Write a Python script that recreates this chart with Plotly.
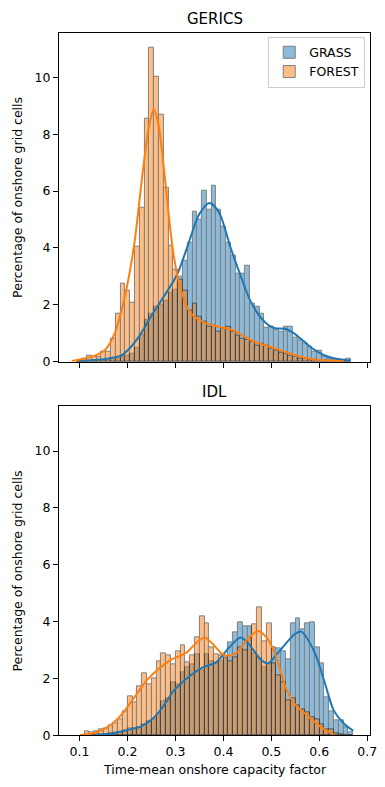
import numpy as np
import plotly.graph_objects as go

# ---------------- data ----------------
bin_width = 0.01
top_bin_start = 0.0954      # GERICS histogram first bin edge
bottom_bin_start = 0.1104   # IDL histogram first bin edge

gerics_grass = [0, 0, 0.02, 0.03, 0.05, 0.05, 0.08, 0.1, 0.12, 0.18,
                0.22, 0.3, 0.5, 0.95, 1.47, 1.69, 1.92, 2.0, 2.15, 2.44,
                2.55, 3.0, 3.54, 4.18, 5.28, 5.0, 6.0, 5.34, 6.19, 5.34,
                4.76, 4.18, 3.72, 3.08, 3.08, 3.37, 2.03, 1.92, 1.68, 1.2,
                1.22, 1.13, 1.05, 1.22, 1.25, 0.85, 0.78, 0.64, 0.52, 0.35,
                0.40, 0.17, 0.12, 0.10, 0.08, 0.06, 0.12]
gerics_forest = [0.05, 0.1, 0.23, 0.17, 0.17, 0.35, 0.35, 0.81, 1.68, 2.73,
                 2.50, 2.08, 4.05, 5.42, 8.54, 11.03, 10.02, 8.70, 6.12, 4.07,
                 3.22, 2.9, 2.5, 1.8, 2.03, 1.57, 1.4, 1.22, 1.28, 1.05,
                 1.16, 1.22, 1.05, 0.93, 0.82, 0.76, 0.70, 0.58, 0.64, 0.58,
                 0.46, 0.40, 0.31, 0.27, 0.20, 0.17, 0.12, 0.1, 0.08, 0.06,
                 0.05, 0.04, 0.03, 0.03, 0.02, 0.0, 0.0]
idl_grass = [0, 0, 0.02, 0.04, 0.05, 0.06, 0.08, 0.12, 0.18, 0.25,
             0.25, 0.3, 0.38, 0.5, 0.55, 0.75, 1.2, 1.3, 1.87, 1.8,
             2.2, 2.4, 2.5, 2.85, 2.3, 2.85, 2.6, 2.55, 2.6, 2.7,
             3.26, 3.61, 3.96, 3.84, 3.84, 2.9, 2.7, 2.4, 2.55, 3.09,
             3.05, 2.95, 2.68, 3.93, 4.1, 3.73, 3.93, 3.96, 3.11, 2.53,
             1.35, 0.86, 0.53, 0.53, 0.28, 0.09]
idl_forest = [0.16, 0.09, 0.13, 0.21, 0.25, 0.35, 0.44, 0.56, 0.86, 1.37,
              1.17, 1.72, 2.18, 1.81, 2.01, 2.62, 2.88, 2.80, 2.51, 2.97,
              3.15, 2.57, 2.83, 3.44, 4.19, 3.93, 3.09, 2.86, 2.80, 2.75,
              2.6, 2.75, 3.1, 3.0, 3.4, 3.90, 4.52, 3.3, 3.93, 2.55,
              2.1, 1.85, 1.25, 1.3, 1.05, 0.9, 0.8, 0.65, 0.55, 0.4,
              0.22, 0.2, 0.08, 0.02, 0, 0]

# KDE curves
gerics_grass_kde_x = [0.098, 0.159, 0.187, 0.207, 0.228, 0.248, 0.276, 0.303, 0.330, 0.340,
                      0.350, 0.371, 0.391, 0.415, 0.436, 0.456, 0.477, 0.497, 0.508, 0.528,
                      0.548, 0.569, 0.589, 0.610, 0.630, 0.651, 0.665]
gerics_grass_kde_y = [0.03, 0.11, 0.22, 0.52, 0.99, 1.57, 2.3, 3.05, 4.3, 4.8,
                      5.2, 5.58, 5.25, 4.01, 3.02, 2.15, 1.57, 1.25, 1.18, 1.16,
                      0.99, 0.70, 0.43, 0.23, 0.12, 0.06, 0.04]
gerics_forest_kde_x = [0.084, 0.125, 0.153, 0.173, 0.194, 0.214, 0.231, 0.245, 0.255, 0.265,
                       0.276, 0.286, 0.296, 0.310, 0.330, 0.357, 0.385, 0.409, 0.422, 0.443,
                       0.463, 0.487, 0.521, 0.555, 0.589, 0.624, 0.651]
gerics_forest_kde_y = [0.03, 0.17, 0.41, 0.99, 2.26, 4.12, 6.56, 8.30, 8.88, 8.30,
                       6.79, 5.17, 3.77, 2.61, 1.75, 1.40, 1.25, 1.16, 1.10, 0.89,
                       0.72, 0.58, 0.39, 0.20, 0.08, 0.04, 0.02]
idl_grass_kde_x = [0.129, 0.166, 0.200, 0.228, 0.255, 0.282, 0.293, 0.323, 0.357, 0.385,
                   0.412, 0.436, 0.453, 0.480, 0.494, 0.514, 0.548, 0.562, 0.589, 0.610,
                   0.630, 0.651, 0.671]
idl_grass_kde_y = [0.01, 0.07, 0.19, 0.32, 0.62, 1.2, 1.5, 1.99, 2.39, 2.57,
                   3.09, 3.44, 3.21, 2.63, 2.54, 2.91, 3.55, 3.65, 2.97, 1.93,
                   0.88, 0.42, 0.16]
idl_forest_kde_x = [0.101, 0.125, 0.153, 0.180, 0.200, 0.221, 0.241, 0.262, 0.289, 0.323,
                    0.344, 0.361, 0.378, 0.398, 0.412, 0.432, 0.453, 0.473, 0.494, 0.508,
                    0.520, 0.532, 0.548, 0.576, 0.603, 0.630]
idl_forest_kde_y = [0.01, 0.07, 0.24, 0.59, 1.0, 1.5, 1.95, 2.3, 2.64, 2.91,
                    3.26, 3.44, 3.21, 2.86, 2.80, 2.97, 3.44, 3.67, 3.35, 2.85,
                    2.2, 1.6, 1.12, 0.68, 0.30, 0.03]

x_ticks = [0.1, 0.2, 0.3, 0.4, 0.5, 0.6, 0.7]
y_ticks = [0, 2, 4, 6, 8, 10]
panel_titles = ["GERICS", "IDL"]
series_names = ["GRASS", "FOREST"]

# ---------------- styling ----------------
BLUE = "#1f77b4"
ORANGE = "#ff7f0e"
FONT = "DejaVu Sans"
W, H = 385, 787

def centers(start, n):
    return start + bin_width * (np.arange(n) + 0.5)

fig = go.Figure()

panels = [
    ("x", "y", top_bin_start, gerics_grass, gerics_forest,
     (gerics_grass_kde_x, gerics_grass_kde_y), (gerics_forest_kde_x, gerics_forest_kde_y), True),
    ("x2", "y2", bottom_bin_start, idl_grass, idl_forest,
     (idl_grass_kde_x, idl_grass_kde_y), (idl_forest_kde_x, idl_forest_kde_y), False),
]

for xa, ya, start, grass, forest, gk, fk, show_leg in panels:
    for name, vals, col in [(series_names[0], grass, BLUE), (series_names[1], forest, ORANGE)]:
        fig.add_trace(go.Bar(
            x=centers(start, len(vals)), y=vals, width=bin_width,
            marker=dict(color=col, line=dict(color="black", width=1)),
            opacity=0.5, name=name, showlegend=show_leg, legendgroup=name,
            xaxis=xa, yaxis=ya))
    for (kx, ky), col in [(gk, BLUE), (fk, ORANGE)]:
        fig.add_trace(go.Scatter(
            x=kx, y=ky, mode="lines", line=dict(color=col, width=2, shape="spline", smoothing=0.8),
            showlegend=False, hoverinfo="skip", xaxis=xa, yaxis=ya))

L, R = 60 / W, 377 / W
top_dom = [1 - 365 / H, 1 - 33 / H]
bot_dom = [1 - 742 / H, 1 - 410 / H]
xr = [0.057, 0.706]
yr = [0, 11.57]

axis_common = dict(showline=True, linecolor="black", linewidth=1, mirror=True,
                   ticks="outside", ticklen=5, tickwidth=1, tickcolor="black",
                   showgrid=False, zeroline=False,
                   tickfont=dict(family=FONT, size=12.5, color="black"))

fig.update_layout(
    width=W, height=H,
    margin=dict(l=0, r=0, t=0, b=0),
    paper_bgcolor="white", plot_bgcolor="white",
    barmode="overlay", bargap=0,
    font=dict(family=FONT, size=12.5, color="black"),
    xaxis=dict(domain=[L, R], range=xr, anchor="y", tickvals=x_ticks,
               showticklabels=False, **axis_common),
    yaxis=dict(domain=top_dom, range=yr, anchor="x", tickvals=y_ticks, **axis_common),
    xaxis2=dict(domain=[L, R], range=xr, anchor="y2", tickvals=x_ticks,
                ticktext=[f"{v:.1f}" for v in x_ticks], **axis_common),
    yaxis2=dict(domain=bot_dom, range=yr, anchor="x2", tickvals=y_ticks, **axis_common),
    legend=dict(x=372 / W, y=1 - 37 / H, xanchor="right", yanchor="top",
                bgcolor="rgba(255,255,255,0.8)", bordercolor="#cccccc", borderwidth=1,
                font=dict(family=FONT, size=12.5, color="black"),
                tracegroupgap=0, itemwidth=30),
    showlegend=True,
)

mid_x = (L + R) / 2
ann = [
    dict(text=panel_titles[0], x=mid_x, y=1 - 19 / H, font=dict(size=15)),
    dict(text=panel_titles[1], x=mid_x, y=1 - 396 / H, font=dict(size=15)),
    dict(text="Percentage of onshore grid cells", x=18 / W, y=sum(top_dom) / 2, textangle=-90),
    dict(text="Percentage of onshore grid cells", x=18 / W, y=sum(bot_dom) / 2, textangle=-90),
    dict(text="Time-mean onshore capacity factor", x=mid_x, y=1 - 776 / H),
]
for a in ann:
    fig.add_annotation(xref="paper", yref="paper", showarrow=False,
                       xanchor="center", yanchor="middle",
                       font=dict(family=FONT, size=a.get("font", {}).get("size", 12.5), color="black"),
                       text=a["text"], x=a["x"], y=a["y"], textangle=a.get("textangle", 0))

fig.write_html("out.html",
               post_script="document.body.style.margin='0';document.body.style.overflow='hidden';")
